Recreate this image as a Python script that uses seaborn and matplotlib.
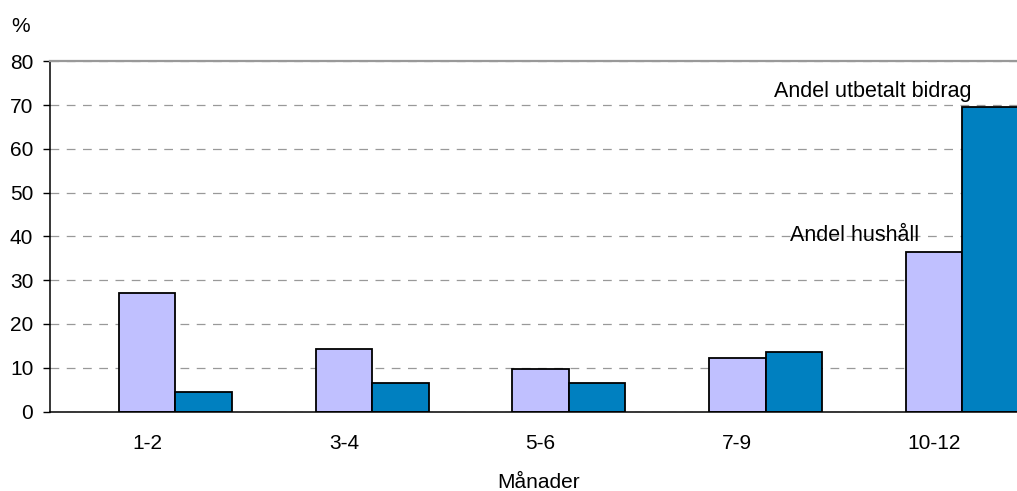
import pandas as pd
import seaborn as sns
import matplotlib.pyplot as plt
import numpy as np

# data
manader = ["1-2", "3-4", "5-6", "7-9", "10-12"]
andel_hushall = [27.0, 14.2, 9.6, 12.3, 36.5]
andel_bidrag = [4.5, 6.4, 6.4, 13.7, 69.5]
serier = ["Andel hushåll", "Andel utbetalt bidrag"]
yticks = [0, 10, 20, 30, 40, 50, 60, 70, 80]

tabell = pd.DataFrame({
    "Månader": manader * 2,
    "Serie": [serier[0]] * len(manader) + [serier[1]] * len(manader),
    "Procent": andel_hushall + andel_bidrag,
})

sns.set_style("white")
plt.rcParams["font.family"] = ["Liberation Sans", "DejaVu Sans"]
plt.rcParams["text.color"] = "black"
plt.rcParams["xtick.color"] = "black"
plt.rcParams["ytick.color"] = "black"
fs = 15

fig = plt.figure(figsize=(10.17, 4.91), dpi=100)
ax = fig.add_axes([50 / 1017, (491 - 411.5) / 491, 978 / 1017, 350.2 / 491])

bredd = 0.574
sns.barplot(data=tabell, x="Månader", y="Procent", hue="Serie", order=manader,
            hue_order=serier, palette=["#C0C0FF", "#0080C0"], width=bredd,
            edgecolor="black", linewidth=1.3, saturation=1, legend=False, ax=ax)

ax.set_xlim(-0.638, 4.334)
ax.set_ylim(0, 80)
ax.set_yticks(yticks)
ax.set_xticks(np.arange(len(manader)) - bredd / 4, manader)
ax.tick_params(axis="x", length=0, pad=16, labelsize=fs)
ax.tick_params(axis="y", length=5, width=1, direction="out", left=True,
               pad=7, labelsize=fs)

ax.yaxis.grid(True, color="#999999", linewidth=0.9, linestyle=(0, (7, 6)))
ax.set_axisbelow(True)

for side in ["left", "bottom"]:
    ax.spines[side].set_color("black")
    ax.spines[side].set_linewidth(1.1)
ax.spines["top"].set_color("#999999")
ax.spines["top"].set_linewidth(1.6)
ax.spines["right"].set_visible(False)

ax.set_xlabel("")
ax.set_ylabel("")
fig.text(539 / 1017, 1 - 482 / 491, "Månader", fontsize=fs, ha="center", va="center")
fig.text(21 / 1017, 1 - 27 / 491, "%", fontsize=fs, ha="center", va="center")

# etiketter vid staplarna
ax.text(3.5425, 73.2, "Andel utbetalt bidrag", ha="center", va="center", fontsize=15.5)
ax.text(3.45, 40.1, "Andel hushåll", ha="center", va="center", fontsize=15.5)

fig.savefig("out.png", dpi=100)
